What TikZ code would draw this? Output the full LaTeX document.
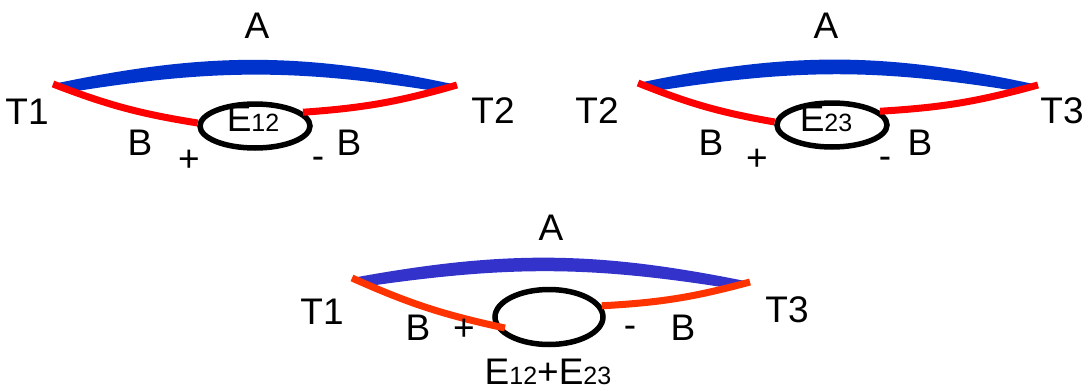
\documentclass[tikz,border=0pt]{standalone}
\usepackage{fontspec}
\setmainfont{Liberation Sans}
\usepackage{tikz}
\usetikzlibrary{calc,shapes.geometric}
\definecolor{bluA}{HTML}{0033CC}
\definecolor{bluC}{HTML}{3333CC}
\definecolor{redB}{HTML}{FF0000}
\definecolor{redC}{HTML}{FF3300}
\newcommand\lbfont{\fontsize{37}{40}\selectfont}
\newcommand\subfont{\fontsize{25}{26}\selectfont}
\tikzset{
  lbl/.style={font=\lbfont,inner sep=0pt},
  ring/.style={ellipse,draw=black,line width=5.5pt,inner sep=0pt,minimum width=110pt,minimum height=44pt},
  legB/.style={line width=7pt,redB},
  legC/.style={line width=7pt,redC}
}
\begin{document}
\begin{tikzpicture}[x=1pt,y=-1pt]
\useasboundingbox (0,0) rectangle (1088,391);
% T1 -- T2
\coordinate (p1) at (53,84); \coordinate (q1) at (457,85);
\node[ring] (e1) at (255,126) {};
\fill[bluA] (p1) to[bend left=12] (q1) -- ($(q1)+(-22,6)$) to[bend right=9] ($(p1)+(24,7)$) -- cycle;
\draw[legB] (p1) to[bend right=6] (e1.177);
\draw[legB] (e1.16) to[bend right=6] (q1);
\node[lbl] (tE1) at (253,119) {E{\subfont 12}};
\node[lbl] (tA1) at (257,26) {A};
\node[lbl] (tL1) at (27,112) {T1};
\node[lbl] (tR1) at (493,111) {T2};
\node[lbl] (bL1) at (140,143) {B};
\node[lbl] (sP1) at (189,161) {+};
\node[lbl] (sM1) at (318,163) {-};
\node[lbl] (bR1) at (349,143) {B};
% T2 -- T3
\coordinate (p2) at (638,83); \coordinate (q2) at (1038,85);
\node[ring] (e2) at (832,125) {};
\fill[bluA] (p2) to[bend left=12] (q2) -- ($(q2)+(-22,6)$) to[bend right=9] ($(p2)+(24,7)$) -- cycle;
\draw[legB] (p2) to[bend right=6] (e2.177);
\draw[legB] (e2.16) to[bend right=6] (q2);
\node[lbl] (tE2) at (826,119) {E{\subfont 23}};
\node[lbl] (tA2) at (826,26) {A};
\node[lbl] (tL2) at (597,111) {T2};
\node[lbl] (tR2) at (1062,111) {T3};
\node[lbl] (bL2) at (711,143) {B};
\node[lbl] (sP2) at (757,160) {+};
\node[lbl] (sM2) at (885,163) {-};
\node[lbl] (bR2) at (920,143) {B};
% T1 -- T3
\coordinate (p3) at (352,278); \coordinate (q3) at (750,282);
\node[ring,minimum width=108pt,minimum height=55pt] (e3) at (549,317) {};
\coordinate (k3) at ($(e3)+(-44,11)$);
\fill[bluC] (p3) to[bend left=11] (q3) -- ($(q3)+(-22,6)$) to[bend right=8.5] ($(p3)+(24,7)$) -- cycle;
\draw[legC] (p3) to[bend right=6] (k3);
\draw[legC] (e3.12) to[bend right=6] (q3);
\node[lbl] (tE3) at (548,372) {E{\subfont 12}+E{\subfont 23}};
\node[lbl] (tA3) at (551,228) {A};
\node[lbl] (tL3) at (322,312) {T1};
\node[lbl] (tR3) at (787,310) {T3};
\node[lbl] (bL3) at (418,328) {B};
\node[lbl] (sP3) at (464,330) {+};
\node[lbl] (sM3) at (630,332) {-};
\node[lbl] (bR3) at (683,328) {B};
\end{tikzpicture}
\end{document}
